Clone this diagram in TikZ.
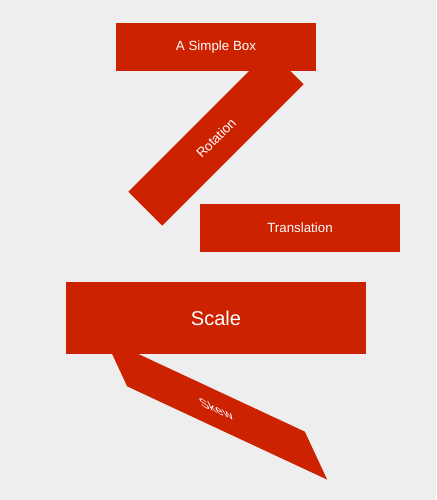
\documentclass[tikz,border=0pt]{standalone}
\usepackage{fontspec}
\setmainfont{Liberation Sans}
\definecolor{boxred}{HTML}{CC2200}
\definecolor{bggray}{HTML}{EEEEEE}
\tikzset{
  redbox/.style={fill=boxred, draw=none, inner sep=0pt, minimum width=150pt, minimum height=36pt,
    text=white, font=\fontsize{10pt}{12pt}\selectfont},
  bigbox/.style={redbox, minimum width=225pt, minimum height=54pt, font=\fontsize{15pt}{18pt}\selectfont},
}
\begin{document}
\begin{tikzpicture}[x=0.75pt,y=-0.75pt]
\fill[bggray] (0,0) rectangle (436,500);
\useasboundingbox (0,0) rectangle (436,500);
\node[redbox, rotate=45] (rot) at (216,138) {Rotation};
\node[redbox] (simple) at (216,47) {A Simple Box};
\node[redbox] (trans) at (300,228) {Translation};
\node[redbox, cm={1,-0.46631,-0.46631,1,(0,0)}] (skew) at (216,409) {Skew};
\node[bigbox] (scale) at (216,318) {Scale};
\end{tikzpicture}
\end{document}
